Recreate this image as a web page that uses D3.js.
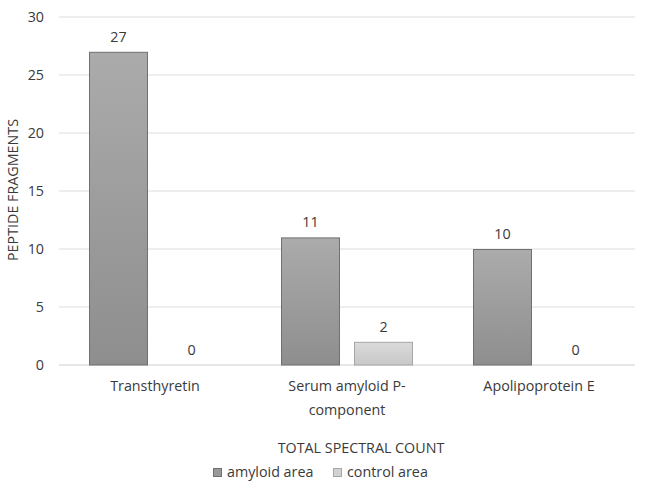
<!DOCTYPE html>
<html><head><meta charset="utf-8">
<script src="https://cdn.jsdelivr.net/npm/d3@7"></script>
<style>body{margin:0;background:#fff}text{font-family:"Open Sans",sans-serif;fill:#3a3a3a}</style>
</head><body><svg id="c" width="650" height="489"></svg>
<script>
const categories = [["Transthyretin"], ["Serum amyloid P-", "component"], ["Apolipoprotein E"]];
const seriesNames = ["amyloid area", "control area"];
const amyloid = [27, 11, 10];
const control = [0, 2, 0];
const yTicks = [0, 5, 10, 15, 20, 25, 30];

const FS = 14.3;
const svg = d3.select("#c");
const defs = svg.append("defs");
const g1 = defs.append("linearGradient").attr("id","gA").attr("x1",0).attr("y1",0).attr("x2",0).attr("y2",1);
g1.append("stop").attr("offset","0%").attr("stop-color","#ababab");
g1.append("stop").attr("offset","100%").attr("stop-color","#8e8e8e");
const g2 = defs.append("linearGradient").attr("id","gC").attr("x1",0).attr("y1",0).attr("x2",0).attr("y2",1);
g2.append("stop").attr("offset","0%").attr("stop-color","#dadada");
g2.append("stop").attr("offset","100%").attr("stop-color","#c8c8c8");
const fills = ["url(#gA)", "url(#gC)"];
const strokes = ["#707070", "#a6a6a6"];
const legendFills = ["#999999", "#d2d2d2"];

const pLeft = 59, pRight = 635, pTop = 17, pBottom = 365;
const x0 = d3.scaleBand().domain(d3.range(categories.length)).range([pLeft, pRight]).paddingInner(0).paddingOuter(0);
const x1 = d3.scaleBand().domain(d3.range(2)).range([30, x0.bandwidth() - 30]).paddingInner(0.192).paddingOuter(0);
const y = d3.scaleLinear().domain([0, 30]).range([pBottom, pTop]);

svg.append("g").selectAll("line").data(yTicks).join("line")
  .attr("x1", pLeft).attr("x2", pRight)
  .attr("y1", d => y(d)).attr("y2", d => y(d))
  .attr("stroke", d => d === 0 ? "#cfcfcf" : "#dcdcdc").attr("stroke-width", 1);

svg.append("g").selectAll("text").data(yTicks).join("text")
  .attr("x", 44).attr("y", d => y(d)).attr("dy", "0.35em")
  .attr("text-anchor", "end").attr("font-size", FS).text(d => d);

const data = categories.map((c, i) => ({i, vals: [amyloid[i], control[i]]}));
const grp = svg.append("g").selectAll("g").data(data).join("g")
  .attr("transform", d => `translate(${x0(d.i)},0)`);
grp.selectAll("rect").data(d => d.vals.map((v, s) => ({v, s})).filter(o => o.v > 0)).join("rect")
  .attr("x", d => x1(d.s) + 0.5).attr("width", x1.bandwidth() - 1)
  .attr("y", d => y(d.v) + 0.5).attr("height", d => y(0) - y(d.v) - 0.5)
  .attr("fill", d => fills[d.s]).attr("stroke", d => strokes[d.s]).attr("stroke-width", 1);
grp.selectAll("text.v").data(d => d.vals.map((v, s) => ({v, s}))).join("text")
  .attr("class", "v")
  .attr("x", d => x1(d.s) + x1.bandwidth() / 2).attr("y", d => y(d.v) - 10)
  .attr("text-anchor", "middle").attr("font-size", FS).text(d => d.v);

svg.append("g").selectAll("text").data(categories).join("text")
  .attr("x", (d, i) => x0(i) + x0.bandwidth() / 2).attr("y", 391)
  .attr("text-anchor", "middle").attr("font-size", FS)
  .each(function(d) {
    const sx = d3.select(this).attr("x");
    d3.select(this).selectAll("tspan").data(d).join("tspan")
      .attr("x", sx).attr("dy", (t, k) => k === 0 ? 0 : 24).text(t => t);
  });

svg.append("text").attr("transform", "translate(18,190) rotate(-90)")
  .attr("text-anchor", "middle").attr("font-size", FS).text("PEPTIDE FRAGMENTS");
svg.append("text").attr("x", 361).attr("y", 453).attr("text-anchor", "middle")
  .attr("font-size", FS).text("TOTAL SPECTRAL COUNT");

const legX = [213, 333];
const lg = svg.append("g").selectAll("g").data(seriesNames).join("g")
  .attr("transform", (d, i) => `translate(${legX[i]},468)`);
lg.append("rect").attr("width", 8).attr("height", 8).attr("y", 0.5).attr("x", 0.5)
  .attr("fill", (d, i) => legendFills[i]).attr("stroke", (d, i) => strokes[i]);
lg.append("text").attr("x", 14).attr("y", 9).attr("font-size", FS).text(d => d);
</script></body></html>
